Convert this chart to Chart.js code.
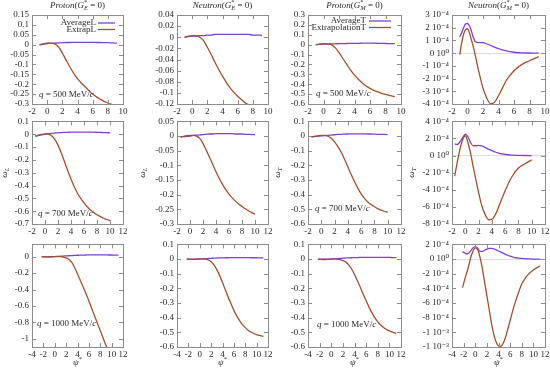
<!DOCTYPE html>
<html>
<head>
<meta charset="utf-8">
<script src="https://cdn.jsdelivr.net/npm/chart.js@4.4.0/dist/chart.umd.min.js"></script>
<style>
  body { margin: 0; background: #fff; width: 550px; height: 370px; position: relative; overflow: hidden; }
  canvas { position: absolute; }
</style>
</head>
<body>
<script>
// ---- data ----
// psi* grids, one per momentum transfer; the G_M=0 neutron panels use a finer grid
const psi500 = [-1, -0.5, 0, 0.5, 1, 1.5, 2, 2.5, 3, 3.5, 4, 4.5, 5, 5.5, 6, 6.5, 7, 7.5, 8, 8.5, 9, 9.2];
const psi500n = [-1, -0.75, -0.5, -0.25, 0, 0.25, 0.5, 0.75, 1, 1.5, 2, 2.5, 3, 3.5, 4, 4.5, 5, 6, 7, 8, 9, 9.2];
const psi700 = [-1.5, -1, -0.5, 0, 0.5, 1, 1.5, 2, 2.5, 3, 3.5, 4, 4.5, 5, 5.5, 6, 6.5, 7, 7.5, 8, 8.5, 9, 9.5, 10];
const psi700n = [-1.6, -1.2, -0.8, -0.4, 0, 0.4, 0.8, 1.2, 1.6, 2, 2.5, 3, 3.5, 4, 4.5, 5, 5.5, 6, 7, 8, 9, 10];
const psi1000 = [-2.3, -1.5, -1, -0.5, 0, 0.5, 1, 1.5, 2, 2.5, 3, 3.5, 4, 4.5, 5, 5.5, 6, 6.5, 7, 7.5, 8, 8.5, 9, 9.5, 10, 10.5, 11, 11.2];
const psi1000n = [-2.2, -1.8, -1.5, -1.2, -0.8, -0.4, 0, 0.4, 0.8, 1.2, 1.6, 2, 2.4, 2.8, 3.2, 3.6, 4, 4.4, 4.8, 5.2, 5.6, 6, 6.5, 7, 7.5, 8, 8.5, 9, 10, 11.2];

// q = 500 MeV/c
const avgLp500 = [0.000, 0.003, 0.006, 0.007, 0.008, 0.009, 0.010, 0.011, 0.011, 0.012, 0.012, 0.012, 0.012, 0.012, 0.012, 0.011, 0.011, 0.010, 0.010, 0.009, 0.008, 0.008];
const extLp500 = [-0.002, 0.004, 0.008, 0.008, 0.004, -0.012, -0.042, -0.078, -0.113, -0.145, -0.172, -0.194, -0.213, -0.232, -0.250, -0.264, -0.276, -0.287, -0.295, -0.302, -0.309, -0.312];
const avgLn500 = [0.000, 0.001, 0.002, 0.002, 0.003, 0.003, 0.004, 0.004, 0.005, 0.005, 0.005, 0.005, 0.005, 0.005, 0.005, 0.005, 0.005, 0.005, 0.004, 0.004, 0.004, 0.003];
const extLn500 = [0.000, 0.002, 0.003, 0.003, 0.000, -0.006, -0.018, -0.031, -0.045, -0.058, -0.070, -0.081, -0.091, -0.099, -0.106, -0.112, -0.118, -0.122, -0.126, -0.129, -0.132, -0.133];
const avgTp500 = [0.000, 0.003, 0.005, 0.006, 0.008, 0.009, 0.010, 0.011, 0.012, 0.013, 0.014, 0.014, 0.015, 0.015, 0.015, 0.015, 0.014, 0.014, 0.012, 0.011, 0.010, 0.010];
const extTp500 = [0.000, 0.005, 0.010, 0.008, 0.000, -0.030, -0.080, -0.140, -0.200, -0.258, -0.308, -0.350, -0.388, -0.418, -0.442, -0.462, -0.478, -0.492, -0.503, -0.513, -0.522, -0.525];
// neutron transverse, in units of 1e-4
const avgTn500 = [1.28, 1.6, 2.0, 2.3, 2.33, 2.15, 1.75, 1.25, 0.92, 0.82, 0.82, 0.72, 0.6, 0.47, 0.35, 0.25, 0.17, 0.07, 0.02, 0.01, 0.0, 0.0];
const extTn500 = [-0.11, 0.8, 1.5, 1.85, 1.92, 1.6, 1.05, 0.5, -0.15, -1.55, -2.75, -3.55, -3.98, -3.85, -3.35, -2.75, -2.15, -1.38, -0.9, -0.6, -0.33, -0.28];

// q = 700 MeV/c
const avgLp700 = [-0.015, -0.010, -0.005, 0.000, 0.004, 0.007, 0.009, 0.011, 0.013, 0.014, 0.015, 0.016, 0.016, 0.017, 0.017, 0.017, 0.017, 0.016, 0.016, 0.015, 0.014, 0.013, 0.012, 0.011];
const extLp700 = [-0.015, -0.008, -0.002, 0.002, 0.000, -0.012, -0.040, -0.085, -0.145, -0.215, -0.285, -0.350, -0.410, -0.460, -0.500, -0.535, -0.565, -0.590, -0.610, -0.628, -0.642, -0.655, -0.665, -0.673];
const avgLn700 = [-0.003, -0.002, -0.001, 0.000, 0.002, 0.003, 0.004, 0.005, 0.006, 0.007, 0.007, 0.008, 0.008, 0.008, 0.008, 0.008, 0.008, 0.007, 0.007, 0.007, 0.006, 0.006, 0.005, 0.005];
const extLn700 = [-0.003, -0.001, 0.001, 0.002, 0.002, 0.000, -0.008, -0.025, -0.048, -0.072, -0.097, -0.122, -0.145, -0.165, -0.183, -0.198, -0.211, -0.222, -0.232, -0.240, -0.248, -0.255, -0.261, -0.266];
const avgTp700 = [-0.005, -0.003, -0.001, 0.001, 0.003, 0.005, 0.007, 0.009, 0.011, 0.012, 0.013, 0.014, 0.015, 0.015, 0.015, 0.015, 0.015, 0.014, 0.014, 0.013, 0.012, 0.012, 0.011, 0.010];
const extTp700 = [-0.005, -0.002, 0.001, 0.004, 0.004, 0.000, -0.015, -0.040, -0.072, -0.110, -0.158, -0.210, -0.262, -0.310, -0.355, -0.395, -0.425, -0.450, -0.468, -0.482, -0.495, -0.505, -0.513, -0.520];
const avgTn700 = [1.35, 1.3, 1.6, 2.1, 2.5, 2.2, 1.5, 1.15, 1.15, 1.2, 1.15, 0.95, 0.75, 0.58, 0.42, 0.3, 0.2, 0.13, 0.06, 0.03, 0.01, 0.0];
const extTn700 = [-2.4, -0.75, 0.75, 1.85, 2.3, 1.5, 0.25, -1.35, -2.85, -4.3, -5.9, -6.9, -7.5, -7.45, -6.95, -6.05, -5.05, -4.1, -2.5, -1.45, -0.95, -0.5];

// q = 1000 MeV/c
const avgLp1000 = [-0.002, -0.002, -0.001, 0.000, 0.002, 0.004, 0.006, 0.008, 0.010, 0.012, 0.014, 0.016, 0.018, 0.019, 0.020, 0.021, 0.022, 0.022, 0.023, 0.023, 0.023, 0.022, 0.022, 0.021, 0.021, 0.020, 0.020, 0.020];
const extLp1000 = [-0.002, -0.003, -0.003, -0.002, 0.000, 0.001, 0.000, -0.005, -0.015, -0.035, -0.070, -0.135, -0.210, -0.290, -0.370, -0.450, -0.540, -0.630, -0.720, -0.810, -0.900, -0.990, -1.080, -1.160, -1.240, -1.310, -1.370, -1.390];
const avgLn1000 = [0.000, 0.000, 0.000, 0.000, 0.001, 0.002, 0.003, 0.004, 0.005, 0.006, 0.007, 0.008, 0.008, 0.009, 0.009, 0.010, 0.010, 0.010, 0.010, 0.010, 0.010, 0.010, 0.009, 0.009, 0.009, 0.008, 0.008, 0.008];
const extLn1000 = [-0.001, -0.002, -0.002, -0.001, 0.000, 0.001, 0.000, -0.006, -0.018, -0.040, -0.072, -0.113, -0.160, -0.210, -0.260, -0.305, -0.350, -0.388, -0.420, -0.447, -0.468, -0.485, -0.498, -0.508, -0.515, -0.521, -0.526, -0.528];
const avgTp1000 = [-0.001, -0.001, 0.000, 0.000, 0.001, 0.002, 0.003, 0.004, 0.006, 0.007, 0.008, 0.009, 0.010, 0.010, 0.011, 0.011, 0.012, 0.012, 0.012, 0.012, 0.012, 0.012, 0.011, 0.011, 0.011, 0.010, 0.010, 0.010];
const extTp1000 = [-0.002, -0.003, -0.003, -0.002, 0.000, 0.001, 0.000, -0.004, -0.010, -0.020, -0.040, -0.068, -0.105, -0.148, -0.193, -0.240, -0.285, -0.328, -0.367, -0.400, -0.428, -0.450, -0.467, -0.480, -0.490, -0.498, -0.505, -0.508];
const avgTn1000 = [1.0, 0.82, 0.7, 0.78, 1.1, 1.5, 1.7, 1.5, 1.05, 1.05, 1.2, 1.35, 1.45, 1.47, 1.4, 1.25, 1.1, 0.95, 0.8, 0.65, 0.52, 0.4, 0.28, 0.18, 0.12, 0.08, 0.05, 0.03, 0.0, 0.0];
const extTn1000 = [-3.9, -2.75, -1.95, -1.15, 0.15, 1.05, 1.52, 1.3, 0.3, -1.2, -3.1, -5.0, -6.9, -8.8, -10.3, -11.35, -11.85, -11.9, -11.5, -10.7, -9.55, -8.4, -6.9, -5.6, -4.45, -3.4, -2.75, -2.2, -1.5, -0.92];

// tick values
const xTicks500 = [-2, 0, 2, 4, 6, 8, 10];
const xTicks700 = [-2, 0, 2, 4, 6, 8, 10, 12];
const xTicks1000 = [-4, -2, 0, 2, 4, 6, 8, 10, 12];
const yTicksLp500 = [0.15, 0.1, 0.05, 0, -0.05, -0.1, -0.15, -0.2, -0.25, -0.3];
const yTicksLn500 = [0.04, 0.02, 0, -0.02, -0.04, -0.06, -0.08, -0.1, -0.12];
const yTicksTp500 = [0.3, 0.2, 0.1, 0, -0.1, -0.2, -0.3, -0.4, -0.5, -0.6];
const yTicksTn500 = [3, 2, 1, 0, -1, -2, -3, -4];
const yLabelsTn500 = ['3 10⁻⁴', '2 10⁻⁴', '1 10⁻⁴', '0 10⁰', '-1 10⁻⁴', '-2 10⁻⁴', '-3 10⁻⁴', '-4 10⁻⁴'];
const yTicksLp700 = [0.1, 0, -0.1, -0.2, -0.3, -0.4, -0.5, -0.6, -0.7];
const yTicksLn700 = [0.05, 0, -0.05, -0.1, -0.15, -0.2, -0.25, -0.3];
const yTicksTp700 = [0.1, 0, -0.1, -0.2, -0.3, -0.4, -0.5, -0.6];
const yTicksTn700 = [4, 2, 0, -2, -4, -6, -8];
const yLabelsTn700 = ['4 10⁻⁴', '2 10⁻⁴', '0 10⁰', '-2 10⁻⁴', '-4 10⁻⁴', '-6 10⁻⁴', '-8 10⁻⁴'];
const yTicksLp1000 = [0, -0.2, -0.4, -0.6, -0.8, -1];
const yTicksLn1000 = [0.1, 0, -0.1, -0.2, -0.3, -0.4, -0.5, -0.6];
const yTicksTp1000 = [0.1, 0, -0.1, -0.2, -0.3, -0.4, -0.5, -0.6];
const yTicksTn1000 = [2, 0, -2, -4, -6, -8, -10, -12];
const yLabelsTn1000 = ['2 10⁻⁴', '0 10⁰', '-2 10⁻⁴', '-4 10⁻⁴', '-6 10⁻⁴', '-8 10⁻⁴', '-1 10⁻³', '-1 10⁻³'];

const PURPLE = '#8040d0';
const BROWN = '#a0522d';
const FONT = "'Liberation Serif', 'DejaVu Serif', serif";
const INK = '#2a2a2a';

// rich text: parts = [text, style]; style letters: i italic, u superscript, d subscript, k stack under previous
function drawRich(ctx, parts, x, y, align) {
  const items = [];
  let w = 0, prev = 0;
  parts.forEach(([s, st = '']) => {
    const small = st.includes('u') || st.includes('d');
    const f = (st.includes('i') ? 'italic ' : '') + (small ? 6.5 : 9) + 'px ' + FONT;
    ctx.font = f;
    const m = ctx.measureText(s).width;
    const back = st.includes('k') ? prev : 0;
    items.push({ s, f, off: w - back, dy: st.includes('u') ? -3.5 : st.includes('d') ? 2.5 : 0 });
    w += Math.max(0, m - back);
    prev = m;
  });
  const x0 = align === 'center' ? x - w / 2 : align === 'right' ? x - w : x;
  ctx.textAlign = 'left';
  ctx.textBaseline = 'middle';
  ctx.fillStyle = INK;
  items.forEach(it => { ctx.font = it.f; ctx.fillText(it.s, x0 + it.off, y + it.dy); });
}

function makePanel(p) {
  const [l, t, r, b] = p.box;
  const [L, T, B] = p.pad;
  const R = 8;
  const c = document.createElement('canvas');
  c.width = L + (r - l) + R;
  c.height = T + (b - t) + B;
  c.style.left = (l - L) + 'px';
  c.style.top = (t - T) + 'px';
  document.body.appendChild(c);

  const deco = {
    id: 'deco',
    afterDatasetsDraw(chart) {
      const { ctx, chartArea: a, scales } = chart;
      ctx.save();
      ctx.strokeStyle = '#8c8c8c';
      ctx.lineWidth = 1;
      ctx.beginPath();
      scales.x.ticks.forEach(tk => {
        const px = Math.round(scales.x.getPixelForValue(tk.value)) + 0.5;
        ctx.moveTo(px, a.bottom); ctx.lineTo(px, a.bottom - 4);
        ctx.moveTo(px, a.top); ctx.lineTo(px, a.top + 4);
      });
      scales.y.ticks.forEach(tk => {
        const py = Math.round(scales.y.getPixelForValue(tk.value)) + 0.5;
        ctx.moveTo(a.left, py); ctx.lineTo(a.left + 4, py);
        ctx.moveTo(a.right, py); ctx.lineTo(a.right - 4, py);
      });
      ctx.stroke();
      ctx.strokeRect(Math.round(a.left) + 0.5, Math.round(a.top) + 0.5, Math.round(a.right - a.left), Math.round(a.bottom - a.top));

      const cx = (a.left + a.right) / 2, cy = (a.top + a.bottom) / 2;
      if (p.title) drawRich(ctx, p.title, cx, a.top - 9, 'center');
      if (p.note) drawRich(ctx, p.note.parts, a.left + p.note.dx, a.bottom - p.note.dy, 'left');
      if (p.xtitle) drawRich(ctx, p.xtitle, cx, a.bottom + 16, 'center');
      if (p.ytitle) {
        ctx.save();
        ctx.translate(a.left + p.ytitle.dx, cy);
        ctx.rotate(-Math.PI / 2);
        drawRich(ctx, p.ytitle.parts, 0, 0, 'center');
        ctx.restore();
      }
      if (p.legend) {
        chart.data.datasets.forEach((ds, i) => {
          const yy = a.top + p.legend.y[i];
          drawRich(ctx, [[ds.label, '']], a.right - p.legend.text, yy, 'right');
          ctx.strokeStyle = ds.borderColor;
          ctx.lineWidth = 1.3;
          ctx.beginPath();
          ctx.moveTo(a.right - p.legend.line[0], yy);
          ctx.lineTo(a.right - p.legend.line[1], yy);
          ctx.stroke();
        });
      }
      ctx.restore();
    }
  };

  const yTickLabel = (v, i) => p.yLabels ? p.yLabels[i] : String(p.yTicks[i]);

  new Chart(c, {
    type: 'scatter',
    data: {
      datasets: [
        { label: p.names ? p.names[0] : 'Average', data: p.x.map((x, i) => ({ x, y: p.avg[i] })),
          borderColor: PURPLE, order: 1 },
        { label: p.names ? p.names[1] : 'Extrap', data: p.x.map((x, i) => ({ x, y: p.ext[i] })),
          borderColor: BROWN, order: 0 }
      ].map(ds => Object.assign(ds, { showLine: true, pointRadius: 0, borderWidth: 1.3, cubicInterpolationMode: 'monotone', fill: false }))
    },
    options: {
      responsive: false,
      animation: false,
      devicePixelRatio: 1,
      layout: { padding: { top: T, right: R, left: 0, bottom: 0 } },
      plugins: { legend: { display: false }, title: { display: false }, tooltip: { enabled: false } },
      scales: {
        x: {
          type: 'linear', min: p.xr[0], max: p.xr[1],
          afterBuildTicks: s => { s.ticks = p.xTicks.map(v => ({ value: v })); },
          afterFit: s => { s.height = B; },
          grid: { display: false, drawTicks: false, tickLength: 0 }, border: { display: false },
          ticks: { font: { family: FONT, size: 9 }, color: INK, padding: 2, maxRotation: 0, autoSkip: false, callback: v => String(v) }
        },
        y: {
          type: 'linear', min: p.yr[0], max: p.yr[1],
          afterBuildTicks: s => { s.ticks = p.yTicks.map(v => ({ value: v })); },
          afterFit: s => { s.width = L; },
          grid: {
            display: !!p.zeroLine, drawTicks: false, tickLength: 0,
            color: ctx => (ctx.tick && ctx.tick.value === 0 ? '#dcdcdc' : 'rgba(0,0,0,0)')
          },
          border: { display: false },
          ticks: { font: { family: FONT, size: 9 }, color: INK, padding: 3, autoSkip: false, callback: yTickLabel }
        }
      }
    },
    plugins: [deco]
  });
}

const qNote = q => [['q', 'i'], [' = ' + q + ' MeV/', ''], ['c', 'i']];
const omega = s => [['ω', 'i'], [s, 'id']];
const title = (who, sub) => [[who, 'i'], ['(', ''], ['G', 'i'], ['*', 'u'], [sub, 'idk'], [' = 0)', '']];
const psiTitle = [['ψ', 'i'], ['*', 'u']];

// layout of the 4 x 3 grid (plot boxes in page pixels)
const COLS = [[32, 123], [177, 268], [308, 401], [452, 545]];
const ROWS = [[15, 104], [121, 224], [244, 347]];
const box = (r, c) => [COLS[c][0], ROWS[r][0], COLS[c][1], ROWS[r][1]];
const PADL = [32, 46, 38, 47];

const panels = [
  { box: box(0, 0), pad: [PADL[0], 15, 14], xr: [-2, 10], yr: [-0.3, 0.15], xTicks: xTicks500, yTicks: yTicksLp500,
    x: psi500, avg: avgLp500, ext: extLp500, names: ['AverageL', 'ExtrapL'], title: title('Proton', 'E'),
    legend: { y: [8, 14.5], text: 27, line: [25, 8] }, note: { parts: qNote(500), dx: 7, dy: 9 } },
  { box: box(0, 1), pad: [PADL[1], 15, 14], xr: [-2, 10], yr: [-0.12, 0.04], xTicks: xTicks500, yTicks: yTicksLn500,
    x: psi500, avg: avgLn500, ext: extLn500, title: title('Neutron', 'E') },
  { box: box(0, 2), pad: [PADL[2], 15, 14], xr: [-2, 10], yr: [-0.6, 0.3], xTicks: xTicks500, yTicks: yTicksTp500,
    x: psi500, avg: avgTp500, ext: extTp500, names: ['AverageT', 'ExtrapolationT'], title: title('Proton', 'M'),
    legend: { y: [6, 12.5], text: 35, line: [32, 10] }, note: { parts: qNote(500), dx: 8, dy: 10 } },
  { box: box(0, 3), pad: [PADL[3], 15, 14], xr: [-2, 10], yr: [-4, 3], xTicks: xTicks500, yTicks: yTicksTn500, yLabels: yLabelsTn500,
    x: psi500n, avg: avgTn500, ext: extTn500, title: title('Neutron', 'M'), zeroLine: true },

  { box: box(1, 0), pad: [PADL[0], 8, 14], xr: [-2, 12], yr: [-0.7, 0.1], xTicks: xTicks700, yTicks: yTicksLp700,
    x: psi700, avg: avgLp700, ext: extLp700, ytitle: { parts: omega('L'), dx: -27 }, note: { parts: qNote(700), dx: 6, dy: 10 } },
  { box: box(1, 1), pad: [PADL[1], 8, 14], xr: [-2, 12], yr: [-0.3, 0.05], xTicks: xTicks700, yTicks: yTicksLn700,
    x: psi700, avg: avgLn700, ext: extLn700, ytitle: { parts: omega('L'), dx: -34 } },
  { box: box(1, 2), pad: [PADL[2], 8, 14], xr: [-2, 12], yr: [-0.6, 0.1], xTicks: xTicks700, yTicks: yTicksTp700,
    x: psi700, avg: avgTp700, ext: extTp700, ytitle: { parts: omega('T'), dx: -30 }, note: { parts: qNote(700), dx: 7, dy: 15 } },
  { box: box(1, 3), pad: [PADL[3], 8, 14], xr: [-2, 12], yr: [-8, 4], xTicks: xTicks700, yTicks: yTicksTn700, yLabels: yLabelsTn700,
    x: psi700n, avg: avgTn700, ext: extTn700, ytitle: { parts: omega('T'), dx: -40 }, zeroLine: true },

  { box: box(2, 0), pad: [PADL[0], 8, 22], xr: [-4, 12], yr: [-1.1, 0.15], xTicks: xTicks1000, yTicks: yTicksLp1000,
    x: psi1000, avg: avgLp1000, ext: extLp1000, xtitle: psiTitle, note: { parts: qNote(1000), dx: 5, dy: 23 } },
  { box: box(2, 1), pad: [PADL[1], 8, 22], xr: [-4, 12], yr: [-0.6, 0.1], xTicks: xTicks1000, yTicks: yTicksLn1000,
    x: psi1000, avg: avgLn1000, ext: extLn1000, xtitle: psiTitle },
  { box: box(2, 2), pad: [PADL[2], 8, 22], xr: [-4, 12], yr: [-0.6, 0.1], xTicks: xTicks1000, yTicks: yTicksTp1000,
    x: psi1000, avg: avgTp1000, ext: extTp1000, xtitle: psiTitle, note: { parts: qNote(1000), dx: 9, dy: 22 } },
  { box: box(2, 3), pad: [PADL[3], 8, 22], xr: [-4, 12], yr: [-12, 2], xTicks: xTicks1000, yTicks: yTicksTn1000, yLabels: yLabelsTn1000,
    x: psi1000n, avg: avgTn1000, ext: extTn1000, xtitle: psiTitle, zeroLine: true }
];

panels.forEach(makePanel);
</script>
</body>
</html>
